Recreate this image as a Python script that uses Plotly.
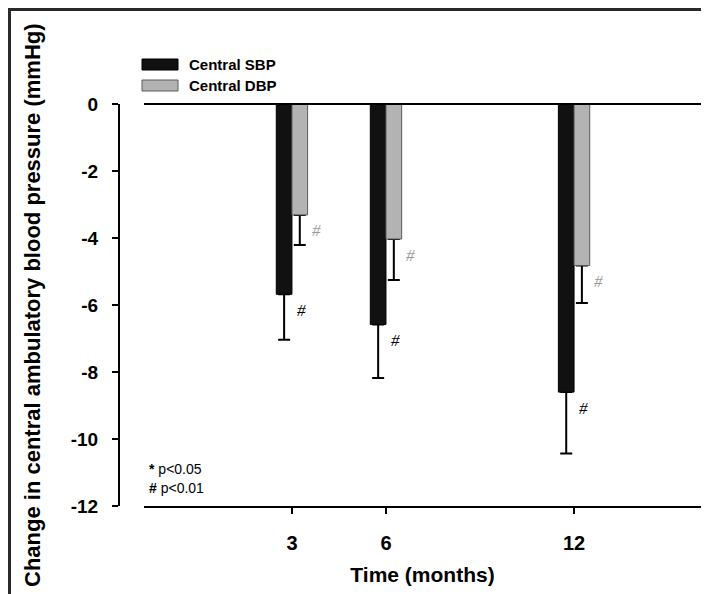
import plotly.graph_objects as go

# ---- data ----
months = [3, 6, 12]
month_labels = ["3", "6", "12"]
sbp_change = [-5.68, -6.58, -8.6]
sbp_err = [1.36, 1.6, 1.83]
dbp_change = [-3.31, -4.03, -4.82]
dbp_err = [0.9, 1.22, 1.12]
sbp_sig = ["#", "#", "#"]
dbp_sig = ["#", "#", "#"]
y_ticks = [0, -2, -4, -6, -8, -10, -12]
series_names = ["Central SBP", "Central DBP"]
footnotes = ["<b>*</b> p&lt;0.05", "<b>#</b> p&lt;0.01"]

# ---- layout constants ----
W, H = 709, 594
ML, MR, MT, MB = 111, 16, 96, 96
PW, PH = W - ML - MR, H - MT - MB
FONT = "Liberation Sans, Arial, sans-serif"
BLACK = "#111111"
GRAY = "#b3b3b3"


def px(xp):
    return (xp - ML) / PW


def py(yp):
    return (H - MB - yp) / PH


BAR_W = 0.5
x_dom0 = px(136)

fig = go.Figure()

# error bars (drawn first so the visible bars cover the upper caps)
for vals, errs, off in [(sbp_change, sbp_err, -BAR_W), (dbp_change, dbp_err, 0.0)]:
    fig.add_trace(go.Bar(
        x=months, y=vals, width=BAR_W, offset=off,
        marker=dict(color="rgba(0,0,0,0)", line=dict(width=0)),
        error_y=dict(type="data", symmetric=False, array=[0] * len(vals),
                     arrayminus=errs, color="black", thickness=2, width=6),
        showlegend=False, hoverinfo="skip",
    ))

fig.add_trace(go.Bar(
    x=months, y=sbp_change, width=BAR_W, offset=-BAR_W, name=series_names[0],
    marker=dict(color=BLACK, line=dict(color="black", width=1)), showlegend=False,
))
fig.add_trace(go.Bar(
    x=months, y=dbp_change, width=BAR_W, offset=0.0, name=series_names[1],
    marker=dict(color=GRAY, line=dict(color="#5a5a5a", width=1)), showlegend=False,
))

annotations = []
for m, v, s in zip(months, sbp_change, sbp_sig):
    annotations.append(dict(x=m - BAR_W / 2, y=v, xref="x", yref="y", text=s,
                            showarrow=False, xshift=17, yshift=-16,
                            font=dict(family="Liberation Serif, serif", size=17,
                                      color="black", style="italic")))
for m, v, s in zip(months, dbp_change, dbp_sig):
    annotations.append(dict(x=m + BAR_W / 2, y=v, xref="x", yref="y", text=s,
                            showarrow=False, xshift=17, yshift=-16,
                            font=dict(family="Liberation Serif, serif", size=17,
                                      color="#9a9a9a", style="italic")))

# legend (custom, wide swatches)
shapes = []
for i, (name, col, lcol) in enumerate([(series_names[0], BLACK, "black"),
                                        (series_names[1], GRAY, "#5a5a5a")]):
    yc = 56.5 + i * 21
    shapes.append(dict(type="rect", xref="paper", yref="paper",
                       x0=px(134), x1=px(170), y0=py(yc + 5.5), y1=py(yc - 5.5),
                       fillcolor=col, line=dict(color=lcol, width=1)))
    annotations.append(dict(x=px(179), y=py(yc), xref="paper", yref="paper",
                            text=name, showarrow=False, xanchor="left", yanchor="middle",
                            font=dict(family=FONT, size=15, color="black", weight="bold")))

# footnotes
for i, t in enumerate(footnotes):
    annotations.append(dict(x=px(139), y=py(461 + i * 19), xref="paper", yref="paper",
                            text=t, showarrow=False, xanchor="left", yanchor="middle",
                            font=dict(family=FONT, size=14, color="black")))

# y title
annotations.append(dict(x=px(24), y=0.5, xref="paper", yref="paper",
                        text="Change in central ambulatory blood pressure (mmHg)",
                        textangle=-90, showarrow=False, xanchor="center", yanchor="middle",
                        font=dict(family=FONT, size=22, color="black", weight="bold")))

# zero line across the x-axis extent
shapes.append(dict(type="line", xref="paper", yref="paper", x0=x_dom0, x1=1, y0=1, y1=1,
                   line=dict(color="black", width=2)))
# outer frame
shapes.append(dict(type="rect", xref="paper", yref="paper",
                   x0=px(1.5), x1=px(W - 1.5), y0=py(H - 1.5), y1=py(1.5),
                   line=dict(color="#2a2a2a", width=3), fillcolor="rgba(0,0,0,0)"))

fig.update_layout(
    width=W, height=H,
    margin=dict(l=ML, r=MR, t=MT, b=MB, pad=0),
    paper_bgcolor="white", plot_bgcolor="white",
    barmode="overlay",
    showlegend=False,
    annotations=annotations,
    shapes=shapes,
    xaxis=dict(
        domain=[x_dom0, 1], range=[-1.72, 16.05],
        tickvals=months, ticktext=month_labels,
        showline=True, linecolor="black", linewidth=2,
        ticks="outside", ticklen=6, tickwidth=2, tickcolor="black",
        showgrid=False, zeroline=False, ticklabelstandoff=12,
        tickfont=dict(family=FONT, size=20, color="black", weight="bold"),
        title=dict(text="Time (months)", standoff=14,
                   font=dict(family=FONT, size=21, color="black", weight="bold")),
    ),
    yaxis=dict(
        anchor="free", position=0, range=[-12, 0],
        tickvals=y_ticks, ticktext=[str(t) for t in y_ticks],
        showline=True, linecolor="black", linewidth=2,
        ticks="outside", ticklen=6, tickwidth=2, tickcolor="black",
        showgrid=False, zeroline=False, ticklabelstandoff=10,
        tickfont=dict(family=FONT, size=19, color="black", weight="bold"),
    ),
)

fig.write_html("out.html")
